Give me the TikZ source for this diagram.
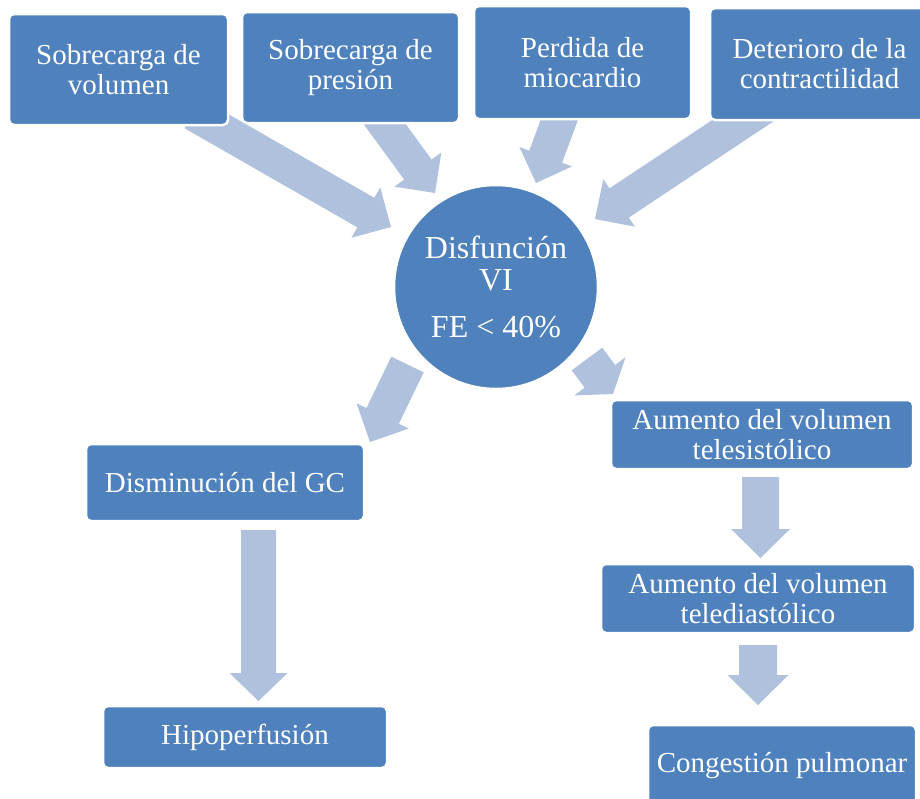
\documentclass[tikz,border=0pt]{standalone}
\usepackage{fontspec}
\setmainfont{Liberation Serif}
\usetikzlibrary{calc}
\definecolor{boxblue}{RGB}{79,129,189}
\definecolor{arrowblue}{RGB}{176,193,221}
\pgfdeclarelayer{background}
\pgfsetlayers{background,main}

% block arrow: #1 tail, #2 tip, #3 shaft half width, #4 head half width, #5 head length
\newcommand\blockarrow[5]{%
  \coordinate (ba-base) at ($(#2)!#5!(#1)$);
  \fill[arrowblue] ($(#1)!#3!90:(#2)$) -- ($(ba-base)!#3!90:(#2)$)
    -- ($(ba-base)!#4!90:(#2)$) -- (#2) -- ($(ba-base)!#4!-90:(#2)$)
    -- ($(ba-base)!#3!-90:(#2)$) -- ($(#1)!#3!-90:(#2)$) -- cycle;
}

\tikzset{
  box/.style={rectangle, rounded corners=5pt, fill=boxblue, draw=white,
    line width=2.5pt, text=white, align=center, inner sep=0pt,
    font=\fontsize{29}{30}\selectfont},
  hub/.style={circle, fill=boxblue, draw=white, line width=2.5pt, text=white,
    align=center, inner sep=0pt, minimum size=204pt,
    font=\fontsize{32}{32}\selectfont}
}

\begin{document}
\begin{tikzpicture}[x=1pt, y=-1pt]
\clip (0,0) rectangle (920,798);

% causes
\node[box, minimum width=219pt, minimum height=111pt] (sv) at (118.5,69.5) {Sobrecarga de\\volumen};
\node[box, minimum width=217pt, minimum height=111pt] (sp) at (350.5,67.5) {Sobrecarga de\\presión};
\node[box, minimum width=217pt, minimum height=113pt] (pm) at (582.5,62.5) {Perdida de\\miocardio};
\node[box, minimum width=219pt, minimum height=112pt] (dc) at (819.5,64) {Deterioro de la\\contractilidad};

% central dysfunction
\node[hub] (dis) at (496,287) {Disfunción\\VI\\[15pt]FE < 40\%};

% consequences
\node[box, minimum width=278pt, minimum height=77pt] (gc) at (225,482.5) {Disminución del GC};
\node[box, minimum width=284pt, minimum height=62pt] (hp) at (245,737) {Hipoperfusión};
\node[box, minimum width=302pt, minimum height=69pt] (ts) at (762,434.5) {Aumento del volumen\\telesistólico};
\node[box, minimum width=314pt, minimum height=69pt] (td) at (758,598.5) {Aumento del volumen\\telediastólico};
\node[box, minimum width=268pt, minimum height=82pt] (cp) at (782,766) {Congestión pulmonar};

% page background and block arrows behind the shapes
\begin{pgfonlayer}{background}
  \fill[white] (0,0) rectangle (920,798);

  \coordinate (sv-tail) at (193,113.5);   \coordinate (dis-in1) at (391,227);
  \coordinate (sp-tail) at (370,104);     \coordinate (dis-in2) at (435,193);
  \coordinate (pm-tail) at (567,99);      \coordinate (dis-in3) at (536,183);
  \coordinate (dc-tail) at (774,100);     \coordinate (dis-in4) at (595,219);
  \coordinate (dis-out1) at (407.5,364.5); \coordinate (gc-in) at (370,442);
  \coordinate (dis-out2) at (587,359);    \coordinate (ts-in) at (613,394);
  \coordinate (ts-out) at (760.5,477);    \coordinate (td-in) at (760.5,558);
  \coordinate (td-out) at (758,645);      \coordinate (cp-in) at (758,705);
  \coordinate (gc-out) at (258.5,530);    \coordinate (hp-in) at (258.5,701);

  \blockarrow{sv-tail}{dis-in1}{17pt}{29pt}{29pt}
  \blockarrow{sp-tail}{dis-in2}{17pt}{29pt}{29pt}
  \blockarrow{pm-tail}{dis-in3}{17.5pt}{28pt}{28pt}
  \blockarrow{dc-tail}{dis-in4}{17.5pt}{28.5pt}{29pt}
  \blockarrow{dis-out1}{gc-in}{18pt}{29pt}{29pt}
  \blockarrow{dis-out2}{ts-in}{19pt}{32pt}{22pt}
  \blockarrow{ts-out}{td-in}{18.5pt}{29.5pt}{29pt}
  \blockarrow{td-out}{cp-in}{19pt}{30.5pt}{30pt}
  \blockarrow{gc-out}{hp-in}{17.5pt}{29pt}{28pt}
\end{pgfonlayer}
\end{tikzpicture}
\end{document}
